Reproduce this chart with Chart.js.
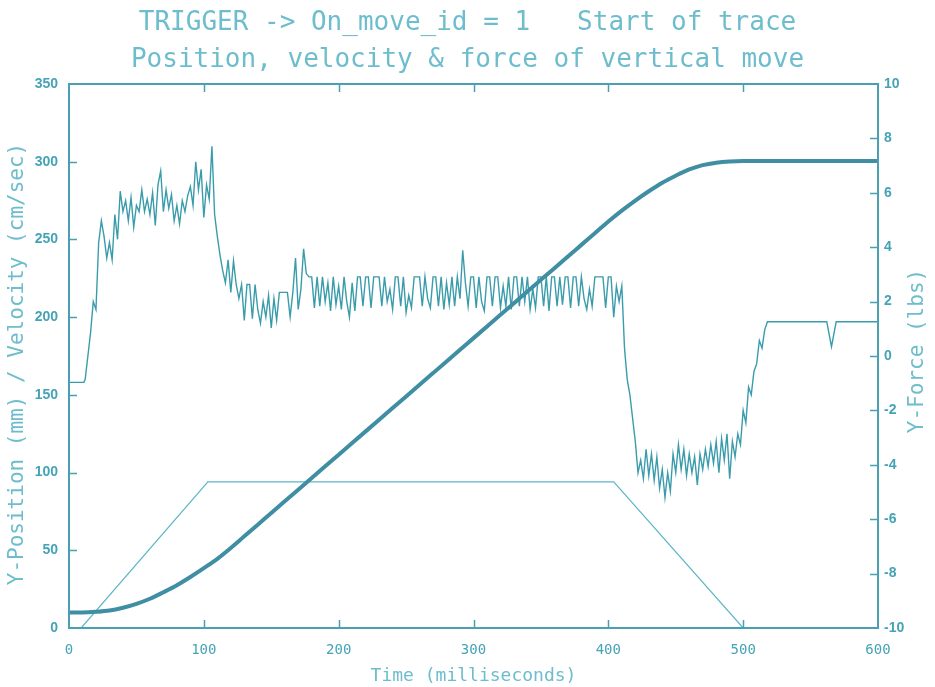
<!DOCTYPE html>
<html>
<head>
<meta charset="utf-8">
<script src="https://cdn.jsdelivr.net/npm/chart.js@4/dist/chart.umd.min.js"></script>
<style>
  html, body { margin: 0; padding: 0; background: #ffffff; }
  #wrap { width: 935px; height: 687px; }
</style>
</head>
<body>
<div id="wrap"><canvas id="c" width="935" height="687"></canvas></div>
<script>
// ---------------- data ----------------
const titleLines = ["TRIGGER -> On_move_id = 1   Start of trace", "Position, velocity & force of vertical move"];
const xTitle = "Time (milliseconds)";
const leftTitle = "Y-Position (mm) / Velocity (cm/sec)";
const rightTitle = "Y-Force (lbs)";

// Position (mm), every 10 ms from 0 to 600
const positionTimes = [0,10,20,30,40,50,60,70,80,90,100,110,120,130,140,150,160,170,180,190,200,
  210,220,230,240,250,260,270,280,290,300,310,320,330,340,350,360,370,380,390,400,
  410,420,430,440,450,460,470,480,490,500,510,520,530,540,550,560,570,580,590,600];
const positionValues = [10,10,10.4,11.2,13,15.5,18.8,23,27.5,32.8,38.5,44.5,51.5,59,66.5,74,81.5,89,96.5,104,111.5,
  119,126.5,134,141.5,149,156.5,164,171.5,179,186.5,194,201.5,209,216.5,224,231.5,239,246.5,254,261.5,
  268.5,275,281,286.5,291,295,297.8,299.4,300.2,300.5,300.5,300.5,300.5,300.5,300.5,300.5,300.5,300.5,300.5,300.5];

// Velocity (cm/sec) profile corners
const velocityTimes = [0, 9, 103, 404, 500, 600];
const velocityValues = [0, 0, 94, 94, 0, 0];

// Force (lbs): flat start, sampled trace every 2 ms from 12 to 520 ms, flat end with a small dip
const forceHeadTimes = [0, 11];
const forceHeadValues = [-0.97, -0.97];
const forceSampleStart = 12, forceSampleStep = 2;
const forceSamples = [
  -0.86,0.0,0.86,2.0,1.71,4.17,4.97,4.4,3.6,4.17,
  3.54,5.2,4.29,6.06,5.31,5.71,4.97,5.83,4.74,5.54,
  5.31,6.11,5.31,5.77,5.2,6.0,4.8,6.29,6.8,5.31,
  6.11,5.43,5.94,4.97,5.54,4.86,5.71,5.31,5.89,6.23,
  5.54,7.14,6.11,6.86,5.09,6.29,5.77,7.71,5.2,4.4,
  3.71,3.14,2.69,3.54,2.34,3.49,2.63,2.11,2.63,1.31,
  2.63,2.63,1.37,2.63,1.71,1.2,2.0,1.43,2.23,1.03,
  2.11,1.31,2.34,2.34,2.34,2.34,1.43,2.34,3.6,1.71,
  2.46,3.94,3.03,2.91,2.91,1.77,2.91,1.83,2.91,2.0,
  2.69,1.66,2.91,1.89,2.57,1.71,2.91,2.0,1.43,2.69,
  1.66,2.91,2.91,1.83,2.91,2.91,1.77,2.91,2.91,2.91,
  1.83,2.91,2.0,2.46,1.71,2.91,2.91,1.83,2.91,1.6,
  2.23,1.77,2.91,2.91,2.91,1.83,2.91,2.11,1.77,2.91,
  2.91,1.83,2.91,1.71,2.69,1.89,2.91,1.83,2.91,2.11,
  3.89,2.69,1.83,2.91,2.91,1.77,2.91,2.0,1.66,2.91,
  2.91,1.83,2.91,2.91,1.77,2.57,1.83,2.91,1.71,2.91,
  2.91,1.83,2.91,2.0,2.91,1.71,2.46,1.77,2.91,2.91,
  1.83,2.91,1.66,2.91,2.91,1.83,2.91,1.89,2.91,2.91,
  1.77,2.91,2.91,1.83,2.91,2.11,1.71,2.46,1.83,2.91,
  2.91,2.91,2.91,1.77,2.91,2.91,1.43,2.57,2.0,2.57,
  0.29,-0.86,-1.43,-2.29,-3.14,-4.29,-3.83,-4.51,-3.43,-4.4,
  -3.6,-4.57,-3.71,-4.86,-4.17,-5.2,-4.29,-4.97,-3.6,-4.29,
  -3.26,-4.17,-3.43,-4.4,-3.6,-4.29,-3.71,-4.74,-3.6,-4.17,
  -3.43,-4.06,-3.26,-3.94,-3.14,-4.29,-3.03,-3.83,-2.86,-4.51,
  -3.14,-3.71,-2.86,-3.26,-2.0,-2.46,-1.14,-1.43,-0.57,-0.29,
  0.57,0.29,0.97,1.26,1.26
];
const forceTailTimes = [562, 565.5, 569, 600];
const forceTailValues = [1.26, 0.34, 1.26, 1.26];

// axis ranges / ticks
const xMin = 0, xMax = 600, xStep = 100;
const yMin = 0, yMax = 350, yStep = 50;
const y1Min = -10, y1Max = 10, y1Step = 2;

// ---------------- build ----------------
const toPoints = (ts, vs) => ts.map((t, i) => ({ x: t, y: vs[i] }));
const positionPts = toPoints(positionTimes, positionValues);
const velocityPts = toPoints(velocityTimes, velocityValues);
const forcePts = toPoints(forceHeadTimes, forceHeadValues)
  .concat(forceSamples.map((v, i) => ({ x: forceSampleStart + i * forceSampleStep, y: v })))
  .concat(toPoints(forceTailTimes, forceTailValues));

const AXIS = '#4a9fb3';
const TEXT = '#45a3b6';
const TITLE = '#6dbdcc';

const framePlugin = {
  id: 'frame',
  afterDatasetsDraw(chart) {
    const { ctx, chartArea: { left, right, top, bottom }, scales: { x, y, y1 } } = chart;
    ctx.save();
    ctx.strokeStyle = AXIS;
    ctx.lineWidth = 2;
    ctx.strokeRect(left, top, right - left, bottom - top);
    ctx.lineWidth = 1.5;
    ctx.beginPath();
    y.ticks.forEach(t => {
      if (t.value > y.min && t.value < y.max) {
        const p = Math.round(y.getPixelForValue(t.value)) + 0.5;
        ctx.moveTo(left, p); ctx.lineTo(left + 8, p);
      }
    });
    y1.ticks.forEach(t => {
      if (t.value > y1.min && t.value < y1.max) {
        const p = Math.round(y1.getPixelForValue(t.value)) + 0.5;
        ctx.moveTo(right - 8, p); ctx.lineTo(right, p);
      }
    });
    x.ticks.forEach(t => {
      if (t.value > x.min && t.value < x.max) {
        const p = Math.round(x.getPixelForValue(t.value)) + 0.5;
        ctx.moveTo(p, bottom); ctx.lineTo(p, bottom - 8);
        ctx.moveTo(p, top); ctx.lineTo(p, top + 8);
      }
    });
    ctx.stroke();

    ctx.fillStyle = TITLE;
    ctx.font = '21px "DejaVu Sans Mono"';
    ctx.textAlign = 'center';
    ctx.textBaseline = 'middle';
    ctx.save();
    ctx.translate(18, 364);
    ctx.rotate(-Math.PI / 2);
    ctx.fillText(leftTitle, 0, 0);
    ctx.restore();
    ctx.save();
    ctx.translate(918, 351);
    ctx.rotate(-Math.PI / 2);
    ctx.fillText(rightTitle, 0, 0);
    ctx.restore();
    ctx.restore();
  }
};

const yTickFont = { family: '"Liberation Sans", Arial, sans-serif', size: 14, weight: 'bold' };
const xTickFont = { family: '"DejaVu Sans Mono", monospace', size: 14 };

new Chart(document.getElementById('c'), {
  type: 'line',
  data: {
    datasets: [
      { label: 'Position', data: positionPts, yAxisID: 'y', borderColor: '#3f8ea3', borderWidth: 4,
        pointRadius: 0, cubicInterpolationMode: 'monotone', fill: false },
      { label: 'Force', data: forcePts, yAxisID: 'y1', borderColor: '#3a9cab', borderWidth: 1.4,
        pointRadius: 0, tension: 0, fill: false },
      { label: 'Velocity', data: velocityPts, yAxisID: 'y', borderColor: '#5cb6c8', borderWidth: 1.2,
        pointRadius: 0, tension: 0, fill: false }
    ]
  },
  options: {
    responsive: false,
    animation: false,
    events: [],
    layout: { padding: 0 },
    plugins: {
      legend: { display: false },
      tooltip: { enabled: false },
      title: {
        display: true,
        text: titleLines,
        color: TITLE,
        font: { family: '"DejaVu Sans Mono", monospace', size: 26, weight: 'normal', lineHeight: 1.45 },
        padding: { top: 4, bottom: 4.6 }
      }
    },
    scales: {
      x: {
        type: 'linear', min: xMin, max: xMax,
        ticks: { stepSize: xStep, color: TEXT, font: xTickFont, padding: 14, maxRotation: 0 },
        grid: { display: false, drawTicks: false },
        border: { display: false },
        title: { display: true, text: xTitle, color: TITLE,
                 font: { family: '"DejaVu Sans Mono", monospace', size: 18, lineHeight: 1.2 },
                 padding: { top: 0, bottom: 0 } },
        afterFit: s => { s.height = 59; }
      },
      y: {
        type: 'linear', position: 'left', min: yMin, max: yMax,
        ticks: { stepSize: yStep, color: TEXT, font: yTickFont, padding: 11 },
        grid: { display: false, drawTicks: false },
        border: { display: false },
        afterFit: s => { s.width = 69; }
      },
      y1: {
        type: 'linear', position: 'right', min: y1Min, max: y1Max,
        ticks: { stepSize: y1Step, color: TEXT, font: yTickFont, padding: 6 },
        grid: { display: false, drawTicks: false },
        border: { display: false },
        afterFit: s => { s.width = 57; }
      }
    }
  },
  plugins: [framePlugin]
});
</script>
</body>
</html>
